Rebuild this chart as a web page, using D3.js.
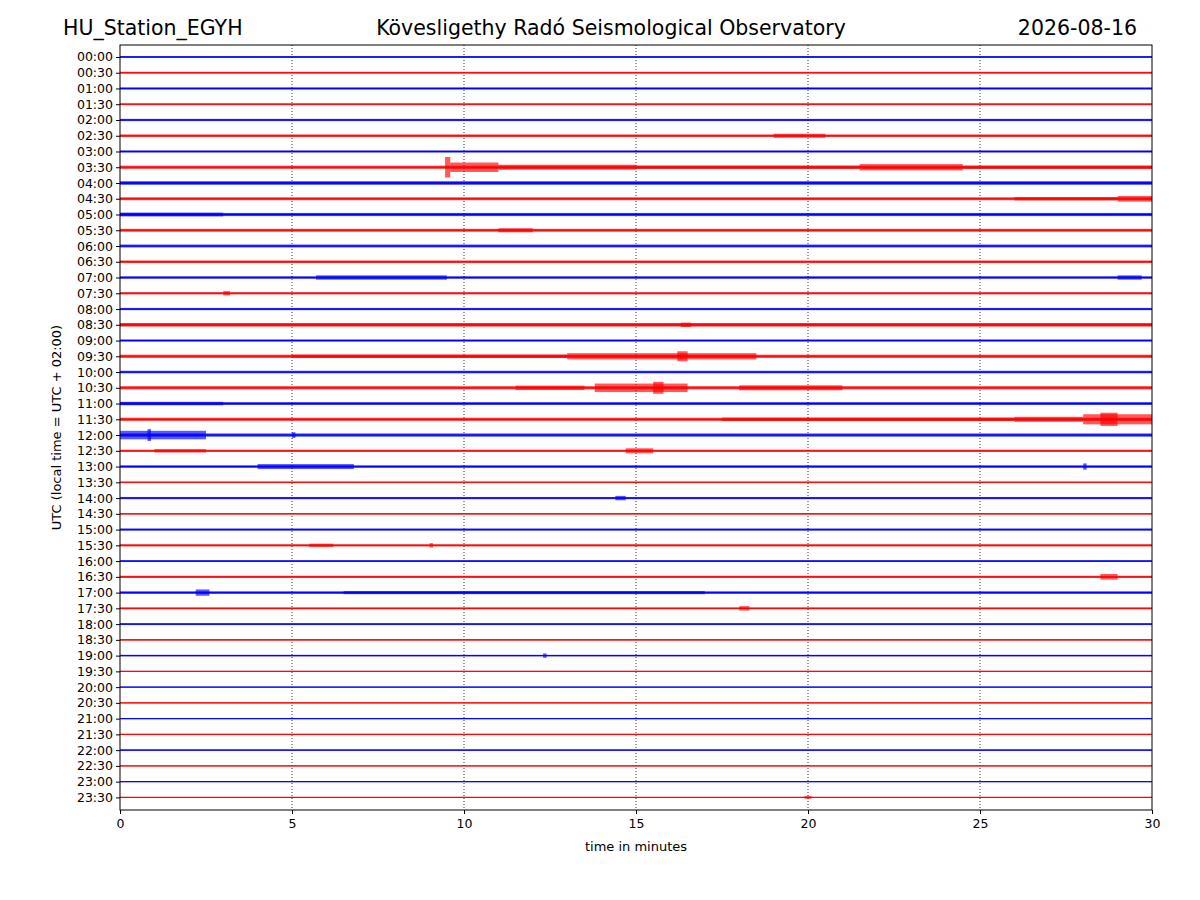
<!DOCTYPE html>
<html><head><meta charset="utf-8">
<script src="https://cdn.jsdelivr.net/npm/d3@7"></script>
<style>body{margin:0;background:#fff;font-family:"DejaVu Sans",sans-serif}</style>
</head><body><svg id="c" width="1200" height="900"></svg>
<script>
// row labels, every half hour
const rowLabels = d3.range(48).map(i => String(Math.floor(i / 2)).padStart(2, "0") + ":" + (i % 2 ? "30" : "00"));
const xTicks = [0, 5, 10, 15, 20, 25, 30];
// background noise half-amplitude per row (in row units)
const baseNoise = [0.06,0.06,0.07,0.06,0.07,0.08,0.07,0.1,0.09,0.09,0.1,0.09,0.09,0.08,0.08,0.07,
  0.07,0.09,0.07,0.1,0.08,0.1,0.09,0.1,0.1,0.07,0.08,0.05,0.07,0.05,0.07,0.07,0.06,0.07,0.08,0.06,
  0.06,0.05,0.05,0.04,0.04,0.04,0.04,0.04,0.05,0.04,0.04,0.04];
// events: [row, start minute, end minute, half-amplitude]
const events = [
  [5,19,20.5,0.13],
  [7,9.45,9.6,0.65],[7,9.6,11,0.3],[7,11,15,0.16],[7,15,21.5,0.1],[7,21.5,24.5,0.2],[7,24.5,30,0.1],
  [8,0,30,0.1],[9,26,29,0.11],[9,29,30,0.18],[10,0,3,0.12],[11,11,12,0.13],
  [14,5.7,9.5,0.14],[14,29,29.7,0.14],[15,3,3.2,0.14],
  [17,0,30,0.11],[17,16.3,16.6,0.14],
  [19,5,13,0.11],[19,13,18.5,0.2],[19,16.2,16.5,0.32],
  [21,11.5,13.5,0.14],[21,13.8,16.5,0.27],[21,15.5,15.8,0.38],[21,18,21,0.16],
  [22,0,3,0.11],[23,17.5,26,0.11],[23,26,28,0.16],[23,28,30,0.32],[23,28.5,29,0.42],
  [24,0,2.5,0.27],[24,0.8,0.9,0.38],[24,5,5.1,0.18],[25,14.7,15.5,0.16],[25,1,2.5,0.11],
  [26,4,6.8,0.16],[26,28,28.1,0.2],[28,14.4,14.7,0.14],[31,5.5,6.2,0.11],[31,9,9.1,0.14],
  [33,28.5,29,0.18],[34,2.2,2.6,0.2],[34,6.5,17,0.1],[35,18,18.3,0.14],[38,12.3,12.4,0.14],[47,19.9,20.1,0.09]
];

const svg = d3.select("#c");
const L = 120, R = 1152, T = 45, B = 810;
const x = d3.scaleLinear().domain([0, 30]).range([L, R]);
const y = d3.scaleLinear().domain([-0.76, 47.8]).range([T, B]);
const col = i => i % 2 ? "#ff0000" : "#0000ff";

// grid
svg.append("g").selectAll("line").data(xTicks.slice(1, -1)).join("line")
  .attr("x1", d => x(d)).attr("x2", d => x(d)).attr("y1", T).attr("y2", B)
  .attr("stroke", "#000").attr("stroke-width", 0.8).attr("stroke-dasharray", "1,2");

const traces = svg.append("g");
rowLabels.forEach((lab, i) => {
  traces.append("rect").attr("x", L).attr("width", R - L)
    .attr("y", y(i - baseNoise[i])).attr("height", y(i + baseNoise[i]) - y(i - baseNoise[i]))
    .attr("fill", col(i)).attr("opacity", 0.8);
  traces.append("line").attr("x1", L).attr("x2", R).attr("y1", y(i)).attr("y2", y(i))
    .attr("stroke", col(i)).attr("stroke-width", 1);
});
traces.selectAll("rect.ev").data(events).join("rect").attr("class", "ev")
  .attr("x", d => x(d[1])).attr("width", d => Math.max(1, x(d[2]) - x(d[1])))
  .attr("y", d => y(d[0] - d[3])).attr("height", d => y(d[0] + d[3]) - y(d[0] - d[3]))
  .attr("fill", d => col(d[0])).attr("opacity", 0.65);

// frame
svg.append("rect").attr("x", L).attr("y", T).attr("width", R - L).attr("height", B - T)
  .attr("fill", "none").attr("stroke", "#000");

const xa = svg.append("g").attr("transform", `translate(0,${B})`)
  .call(d3.axisBottom(x).tickValues(xTicks).tickSize(4).tickPadding(5));
const ya = svg.append("g").attr("transform", `translate(${L},0)`)
  .call(d3.axisLeft(y).tickValues(d3.range(48)).tickFormat(i => rowLabels[i]).tickSize(4).tickPadding(3));
[xa, ya].forEach(a => { a.select(".domain").remove(); a.selectAll("text").attr("font-size", 12.5).attr("font-family", "DejaVu Sans").attr("fill", "#000"); });

svg.append("text").attr("x", (L + R) / 2).attr("y", 851).attr("text-anchor", "middle").attr("font-size", 13).text("time in minutes");
svg.append("text").attr("transform", `translate(61,${(T + B) / 2}) rotate(-90)`).attr("text-anchor", "middle").attr("font-size", 13).text("UTC (local time = UTC + 02:00)");
svg.append("text").attr("x", 63).attr("y", 35).attr("font-size", 20.5).text("HU_Station_EGYH");
svg.append("text").attr("x", 611).attr("y", 35).attr("text-anchor", "middle").attr("font-size", 20.5).text("Kövesligethy Radó Seismological Observatory");
svg.append("text").attr("x", 1137).attr("y", 35).attr("text-anchor", "end").attr("font-size", 20.5).text("2026-08-16");
</script></body></html>
